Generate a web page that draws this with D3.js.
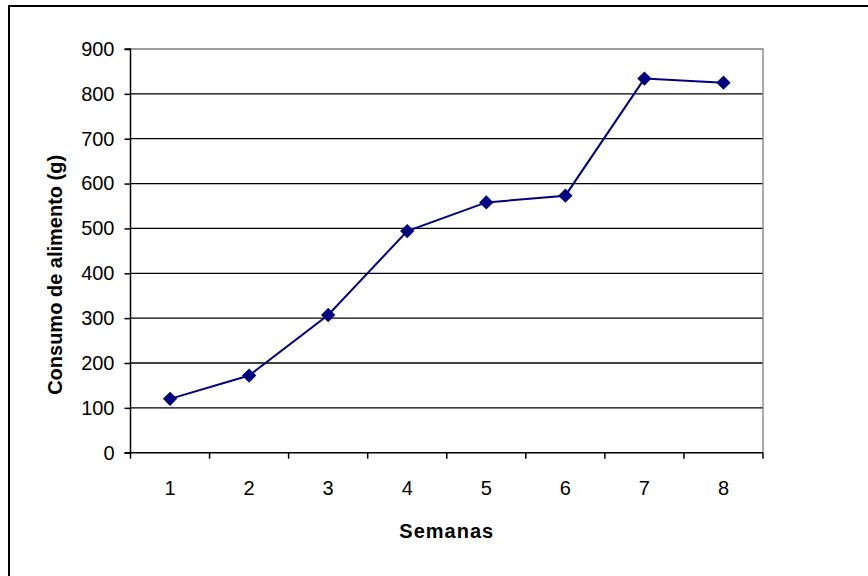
<!DOCTYPE html>
<html>
<head>
<meta charset="utf-8">
<script src="https://cdn.jsdelivr.net/npm/d3@7"></script>
<style>
  html, body { margin: 0; padding: 0; background: #fff; }
  svg { display: block; }
</style>
</head>
<body>
<svg id="chart" width="868" height="576"></svg>
<script>
// Weekly food consumption
const semanas = ["1", "2", "3", "4", "5", "6", "7", "8"];
const consumo = [120, 172, 307, 494, 558, 573, 834, 825];
const yTicks = [0, 100, 200, 300, 400, 500, 600, 700, 800, 900];

const svg = d3.select("#chart");
const W = 868, H = 576;
const plot = { left: 130.5, right: 763, top: 49, bottom: 452.7 };

// Outer frame (top and left edges visible)
svg.append("path")
  .attr("d", `M9,${H + 5} L9,6 L${W + 5},6`)
  .attr("fill", "none")
  .attr("stroke", "#000")
  .attr("stroke-width", 2);

const x = d3.scaleBand().domain(semanas).range([plot.left, plot.right]).padding(0);
const y = d3.scaleLinear().domain([0, 900]).range([plot.bottom, plot.top]);

// Horizontal gridlines
svg.append("g")
  .selectAll("line")
  .data(yTicks.filter(d => d > 0 && d < 900))
  .join("line")
  .attr("x1", plot.left).attr("x2", plot.right)
  .attr("y1", d => y(d)).attr("y2", d => y(d))
  .attr("stroke", "#000")
  .attr("stroke-width", 1.3);

// Plot area border (top and right, grey)
svg.append("path")
  .attr("d", `M${plot.left},${plot.top} L${plot.right},${plot.top} L${plot.right},${plot.bottom}`)
  .attr("fill", "none")
  .attr("stroke", "#808080")
  .attr("stroke-width", 1.3);

// Y axis
const yAxis = d3.axisLeft(y).tickValues(yTicks).tickSize(6).tickPadding(10);
const gy = svg.append("g")
  .attr("transform", `translate(${plot.left},0)`)
  .call(yAxis);
gy.select(".domain").attr("stroke", "#000").attr("stroke-width", 1.5)
  .attr("d", `M-6,${plot.top}H0V${plot.bottom}H-6`);
gy.selectAll(".tick line").attr("stroke", "#000").attr("stroke-width", 1.5);
gy.selectAll(".tick text")
  .attr("font-family", "'Liberation Sans', Arial, sans-serif")
  .attr("font-size", 20)
  .attr("fill", "#000");

// X axis with ticks between categories
const gx = svg.append("g")
  .attr("transform", `translate(0,${plot.bottom})`);
gx.append("line")
  .attr("x1", plot.left).attr("x2", plot.right)
  .attr("y1", 0).attr("y2", 0)
  .attr("stroke", "#000").attr("stroke-width", 1.5);
const boundaries = semanas.map(d => x(d)).concat([x(semanas[semanas.length - 1]) + x.bandwidth()]);
gx.selectAll("line.tk")
  .data(boundaries)
  .join("line")
  .attr("class", "tk")
  .attr("x1", d => d).attr("x2", d => d)
  .attr("y1", 0).attr("y2", 6)
  .attr("stroke", "#000").attr("stroke-width", 1.5);
gx.selectAll("text")
  .data(semanas)
  .join("text")
  .attr("x", d => x(d) + x.bandwidth() / 2)
  .attr("y", 42)
  .attr("text-anchor", "middle")
  .attr("font-family", "'Liberation Sans', Arial, sans-serif")
  .attr("font-size", 20)
  .attr("fill", "#000")
  .text(d => d);

// Series line
const line = d3.line()
  .x((d, i) => x(semanas[i]) + x.bandwidth() / 2)
  .y(d => y(d));
svg.append("path")
  .datum(consumo)
  .attr("d", line)
  .attr("fill", "none")
  .attr("stroke", "#000080")
  .attr("stroke-width", 2);

// Diamond markers
const diamond = d3.symbol().type(d3.symbolDiamond2).size(130);
svg.append("g")
  .selectAll("path")
  .data(consumo)
  .join("path")
  .attr("transform", (d, i) => `translate(${x(semanas[i]) + x.bandwidth() / 2},${y(d)})`)
  .attr("d", diamond)
  .attr("fill", "#000080");

// Axis titles
svg.append("text")
  .attr("x", (plot.left + plot.right) / 2)
  .attr("y", 538)
  .attr("text-anchor", "middle")
  .attr("font-family", "'Liberation Sans', Arial, sans-serif")
  .attr("font-weight", "bold")
  .attr("font-size", 20)
  .attr("letter-spacing", 1)
  .attr("fill", "#000")
  .text("Semanas");

svg.append("text")
  .attr("transform", `translate(62,${(plot.top + plot.bottom) / 2 + 24}) rotate(-90)`)
  .attr("text-anchor", "middle")
  .attr("font-family", "'Liberation Sans', Arial, sans-serif")
  .attr("font-weight", "bold")
  .attr("font-size", 20)
  .attr("fill", "#000")
  .text("Consumo de alimento (g)");
</script>
</body>
</html>
